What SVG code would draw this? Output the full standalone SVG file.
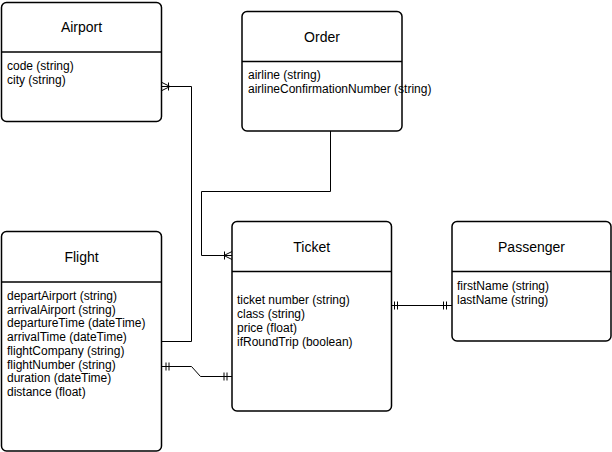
<svg xmlns="http://www.w3.org/2000/svg" width="612" height="452" viewBox="0 0 612 452">
<style>
.box{fill:#fff;stroke:#000;stroke-width:1.5}
.div{stroke:#000;stroke-width:1.5}
.title{font-family:"Liberation Sans",Arial,sans-serif;font-size:14px;fill:#000;text-anchor:middle}
.attr{font-family:"Liberation Sans",Arial,sans-serif;font-size:12px;fill:#000}
.conn{fill:none;stroke:#000;stroke-width:1}
</style>
<rect width="612" height="452" fill="#fff"/>
<g id="connectors">
  <!-- Flight to Airport -->
  <path class="conn" d="M162 341.5 H191.5 V86.5 H162"/>
  <path class="conn" d="M162 82.5 L170 86.5 L162 90.5 M168.5 82.5 V90.5"/>
  <!-- Order to Ticket -->
  <path class="conn" d="M330.5 131 V191.5 H201.5 V255.5 H232"/>
  <path class="conn" d="M232 251.5 L224 255.5 L232 259.5 M224.5 251.5 V259.5"/>
  <!-- Flight to Ticket -->
  <path class="conn" d="M162 366.5 H191.5 L200.5 376.5 H232"/>
  <path class="conn" d="M166 362.5 V370.5 M169 362.5 V370.5 M224 372.5 V380.5 M227 372.5 V380.5"/>
  <!-- Ticket to Passenger -->
  <path class="conn" d="M392 305.5 H452"/>
  <path class="conn" d="M394.5 301.5 V309.5 M397.5 301.5 V309.5 M443.5 301.5 V309.5 M446.5 301.5 V309.5"/>
</g>
<g id="airport">
  <rect class="box" x="1.5" y="2.5" width="160" height="119" rx="5"/>
  <line class="div" x1="1.5" y1="52" x2="161.5" y2="52"/>
  <text class="title" x="81.5" y="32">Airport</text>
  <text class="attr" x="7" y="69.5">code (string)</text>
  <text class="attr" x="7" y="83.5">city (string)</text>
</g>
<g id="order">
  <rect class="box" x="242" y="11.5" width="160" height="119.5" rx="5"/>
  <line class="div" x1="242" y1="61.5" x2="402" y2="61.5"/>
  <text class="title" x="322" y="42">Order</text>
  <text class="attr" x="248" y="79">airline (string)</text>
  <text class="attr" x="248" y="93">airlineConfirmationNumber (string)</text>
</g>
<g id="flight">
  <rect class="box" x="1.5" y="231.5" width="160" height="219.5" rx="5"/>
  <line class="div" x1="1.5" y1="282" x2="161.5" y2="282"/>
  <text class="title" x="81.5" y="262">Flight</text>
  <text class="attr" x="7" y="300">departAirport (string)</text>
  <text class="attr" x="7" y="313.7">arrivalAirport (string)</text>
  <text class="attr" x="7" y="327.4">departureTime (dateTime)</text>
  <text class="attr" x="7" y="341.1">arrivalTime (dateTime)</text>
  <text class="attr" x="7" y="354.8">flightCompany (string)</text>
  <text class="attr" x="7" y="368.5">flightNumber (string)</text>
  <text class="attr" x="7" y="382.2">duration (dateTime)</text>
  <text class="attr" x="7" y="395.9">distance (float)</text>
</g>
<g id="ticket">
  <rect class="box" x="232" y="221.5" width="159.5" height="189.5" rx="5"/>
  <line class="div" x1="232" y1="271.5" x2="391.5" y2="271.5"/>
  <text class="title" x="311.75" y="252">Ticket</text>
  <text class="attr" x="237" y="303.5">ticket number (string)</text>
  <text class="attr" x="237" y="317.5">class (string)</text>
  <text class="attr" x="237" y="331.5">price (float)</text>
  <text class="attr" x="237" y="345.5">ifRoundTrip (boolean)</text>
</g>
<g id="passenger">
  <rect class="box" x="452" y="221.5" width="159" height="119.5" rx="5"/>
  <line class="div" x1="452" y1="271.5" x2="611" y2="271.5"/>
  <text class="title" x="531.5" y="252">Passenger</text>
  <text class="attr" x="457" y="290">firstName (string)</text>
  <text class="attr" x="457" y="303.5">lastName (string)</text>
</g>
</svg>
